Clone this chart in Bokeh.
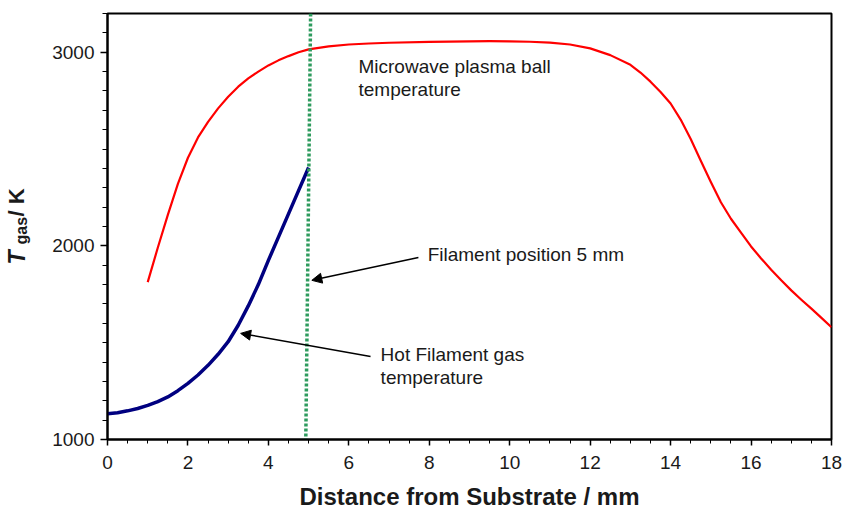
import math
from bokeh.plotting import figure
from bokeh.layouts import row
from bokeh.models import (Label, Arrow, NormalHead, SingleIntervalTicker, Range1d)
from bokeh.embed import file_html
from bokeh.resources import INLINE

# ---- data ----
plasma_x = [1.0, 1.25, 1.5, 1.75, 2.0, 2.25, 2.5, 2.75, 3.0, 3.25, 3.5, 3.75, 4.0, 4.25,
            4.5, 4.75, 5.0, 5.5, 6.0, 6.5, 7.0, 8.0, 9.0, 9.5, 10.0, 10.5, 11.0, 11.5,
            12.0, 12.5, 13.0, 13.25, 13.5, 13.75, 14.0, 14.25, 14.5, 14.75, 15.0, 15.25,
            15.5, 15.75, 16.0, 16.25, 16.5, 16.75, 17.0, 17.25, 17.5, 17.75, 18.0]
plasma_T = [1813, 1990, 2160, 2320, 2455, 2560, 2640, 2710, 2770, 2822, 2865, 2900, 2932, 2958,
            2980, 3000, 3015, 3030, 3040, 3045, 3049, 3053, 3056, 3057, 3056, 3054, 3050, 3040,
            3020, 2985, 2935, 2895, 2848, 2795, 2735, 2652, 2552, 2440, 2330, 2225,
            2140, 2068, 1997, 1935, 1877, 1822, 1770, 1722, 1676, 1628, 1580]

hf_x = [0.0, 0.25, 0.5, 0.75, 1.0, 1.25, 1.5, 1.75, 2.0, 2.25, 2.5, 2.75, 3.0, 3.25,
        3.5, 3.75, 4.0, 4.25, 4.5, 4.75, 5.0]
hf_T = [1133, 1138, 1148, 1160, 1176, 1196, 1220, 1252, 1290, 1333, 1383, 1440, 1505, 1590,
        1690, 1800, 1925, 2045, 2165, 2285, 2405]

filament_x = [5.05, 4.93]
filament_T = [3200, 1000]

x_ticks_interval = 2
y_ticks_interval = 1000

FONT = "Liberation Sans"
INK = "#1a1a1a"
LABEL_W = 40

p = figure(frame_width=724, frame_height=426,
           x_range=Range1d(0, 18), y_range=Range1d(1000, 3200),
           output_backend="svg", toolbar_location=None,
           min_border_left=107 - LABEL_W, min_border_right=12, min_border_top=13,
           min_border_bottom=56)
p.background_fill_color = "white"
p.border_fill_color = "white"
p.grid.visible = False
p.outline_line_color = "black"
p.outline_line_width = 2

# axes
p.xaxis.ticker = SingleIntervalTicker(interval=x_ticks_interval, num_minor_ticks=4)
p.yaxis.ticker = SingleIntervalTicker(interval=y_ticks_interval, num_minor_ticks=10)
for ax in (p.xaxis, p.yaxis):
    ax.axis_line_color = "black"
    ax.axis_line_width = 2
    ax.major_tick_line_color = "black"
    ax.minor_tick_line_color = "black"
    ax.major_tick_line_width = 1.5
    ax.minor_tick_line_width = 1
    ax.major_tick_in = 0
    ax.minor_tick_in = 0
    ax.major_label_text_font = FONT
    ax.major_label_text_font_size = "19px"
    ax.major_label_text_color = INK
p.xaxis.major_tick_out = 6
p.xaxis.minor_tick_out = 4
p.yaxis.major_tick_out = 7
p.yaxis.minor_tick_out = 5
p.xaxis.major_label_standoff = 10
p.yaxis.major_label_standoff = 6

p.xaxis.axis_label = "Distance from Substrate / mm"
p.xaxis.axis_label_text_font = FONT
p.xaxis.axis_label_text_font_style = "bold"
p.xaxis.axis_label_text_font_size = "24px"
p.xaxis.axis_label_text_color = INK
p.xaxis.axis_label_standoff = 11

# lines
p.line(plasma_x, plasma_T, line_color="#ff0000", line_width=2.2, line_join="round")
p.line(hf_x, hf_T, line_color="#000080", line_width=3.5, line_join="round")
p.line(filament_x, filament_T, line_color="#2e9b5e", line_width=3.5, line_dash="3 2")

# annotations
def note(x, y, t):
    p.add_layout(Label(x=x, y=y, text=t, text_font=FONT, text_font_size="19px",
                       text_baseline="middle", text_align="left", text_color=INK))

note(6.24, 2928, "Microwave plasma ball")
note(6.24, 2809, "temperature")
note(7.96, 1956, "Filament position 5 mm")
note(6.79, 1439, "Hot Filament gas")
note(6.79, 1320, "temperature")

for xs, ys, xe, ye in [(7.73, 1940, 5.08, 1822), (6.54, 1429, 3.31, 1548)]:
    p.add_layout(Arrow(end=NormalHead(size=10, fill_color="black", line_color="black"),
                       x_start=xs, y_start=ys, x_end=xe, y_end=ye,
                       line_color="black", line_width=1.5))

# y axis title (T_gas / K) in a narrow side panel, coordinates in pixels
side = figure(frame_width=LABEL_W, frame_height=440,
              x_range=Range1d(0, LABEL_W), y_range=Range1d(440, 0),
              output_backend="svg", toolbar_location=None,
              x_axis_location=None, y_axis_location=None,
              min_border_left=0, min_border_right=0, min_border_top=0, min_border_bottom=0)
side.grid.visible = False
side.outline_line_color = None
side.background_fill_color = "white"
side.border_fill_color = "white"
ylab = dict(angle=math.pi / 2, text_font=FONT, text_baseline="alphabetic",
            text_align="left", text_color=INK)
side.add_layout(Label(x=16, y=251, text="T", text_font_style="bold italic",
                      text_font_size="23px", **ylab))
side.add_layout(Label(x=21, y=231, text="gas", text_font_style="bold",
                      text_font_size="16px", **ylab))
side.add_layout(Label(x=16, y=203, text="/ K", text_font_style="bold",
                      text_font_size="22px", **ylab))

layout = row(side, p, spacing=0)
open("out.html", "w").write(file_html(layout, INLINE))
